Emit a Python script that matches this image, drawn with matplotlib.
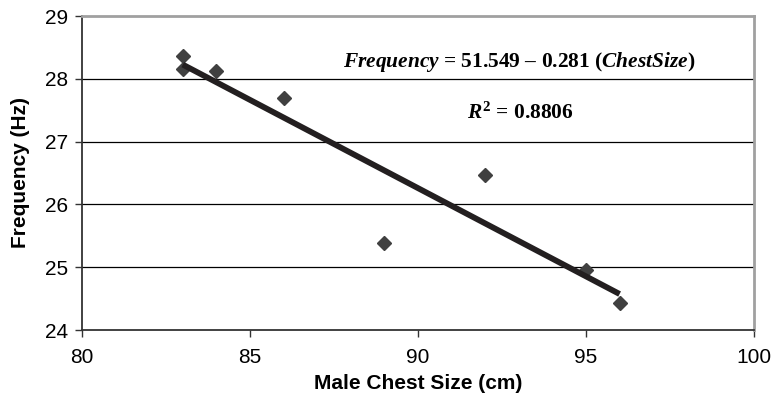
import numpy as np
import matplotlib
matplotlib.use("Agg")
import matplotlib.pyplot as plt

# data
chest = [83, 83, 84, 86, 89, 92, 95, 96]
freq = [28.37, 28.16, 28.12, 27.69, 25.39, 26.47, 24.95, 24.43]
intercept = 51.549
slope = -0.281
r2 = 0.8806
xticks = [80, 85, 90, 95, 100]
yticks = [24, 25, 26, 27, 28, 29]

plt.rcParams['font.family'] = 'Liberation Sans'
plt.rcParams['mathtext.fontset'] = 'custom'
plt.rcParams['mathtext.rm'] = 'Liberation Serif:bold'
plt.rcParams['mathtext.it'] = 'Liberation Serif:bold:italic'

fig = plt.figure(figsize=(7.73, 4.0), dpi=100)
ax = fig.add_axes([82/773, 1-330/400, (754-82)/773, (330-16)/400])

# horizontal gridlines
for yv in yticks[1:-1]:
    ax.axhline(yv, color='black', lw=0.9, zorder=1)

ax.plot(chest, freq, linestyle='none', marker='D', ms=7, color='#404040', zorder=3)

# trend line over data range
xl = np.array([min(chest), max(chest)])
ax.plot(xl, intercept + slope*xl, color='#231f20', lw=4.2, solid_capstyle='butt', zorder=4)

ax.set_xlim(80, 100)
ax.set_ylim(24, 29)
ax.set_xticks(xticks)
ax.set_yticks(yticks)
ax.tick_params(direction='out', length=5, width=1, color='#333333', labelsize=15)
ax.tick_params(axis='x', pad=8)
ax.tick_params(axis='y', pad=5)

for s in ['left', 'bottom']:
    ax.spines[s].set_color('#333333')
    ax.spines[s].set_linewidth(1.3)
for s in ['top', 'right']:
    ax.spines[s].set_color('#a0a0a0')
    ax.spines[s].set_linewidth(2)

ax.set_xlabel('Male Chest Size (cm)', fontsize=15, fontweight='bold', labelpad=5)
ax.set_ylabel('Frequency (Hz)', fontsize=15, fontweight='bold', labelpad=11)

ax.text(0.65, 0.853, r'$Frequency$ = 51.549 – 0.281 ($ChestSize$)',
        transform=ax.transAxes, ha='center', va='center',
        family='Liberation Serif', fontweight='bold', fontsize=15.4)
ax.text(0.652, 0.692, r'$R^{2}$ = %.4f' % r2,
        transform=ax.transAxes, ha='center', va='center',
        family='Liberation Serif', fontweight='bold', fontsize=15.4)

fig.savefig('out.png', dpi=100)
